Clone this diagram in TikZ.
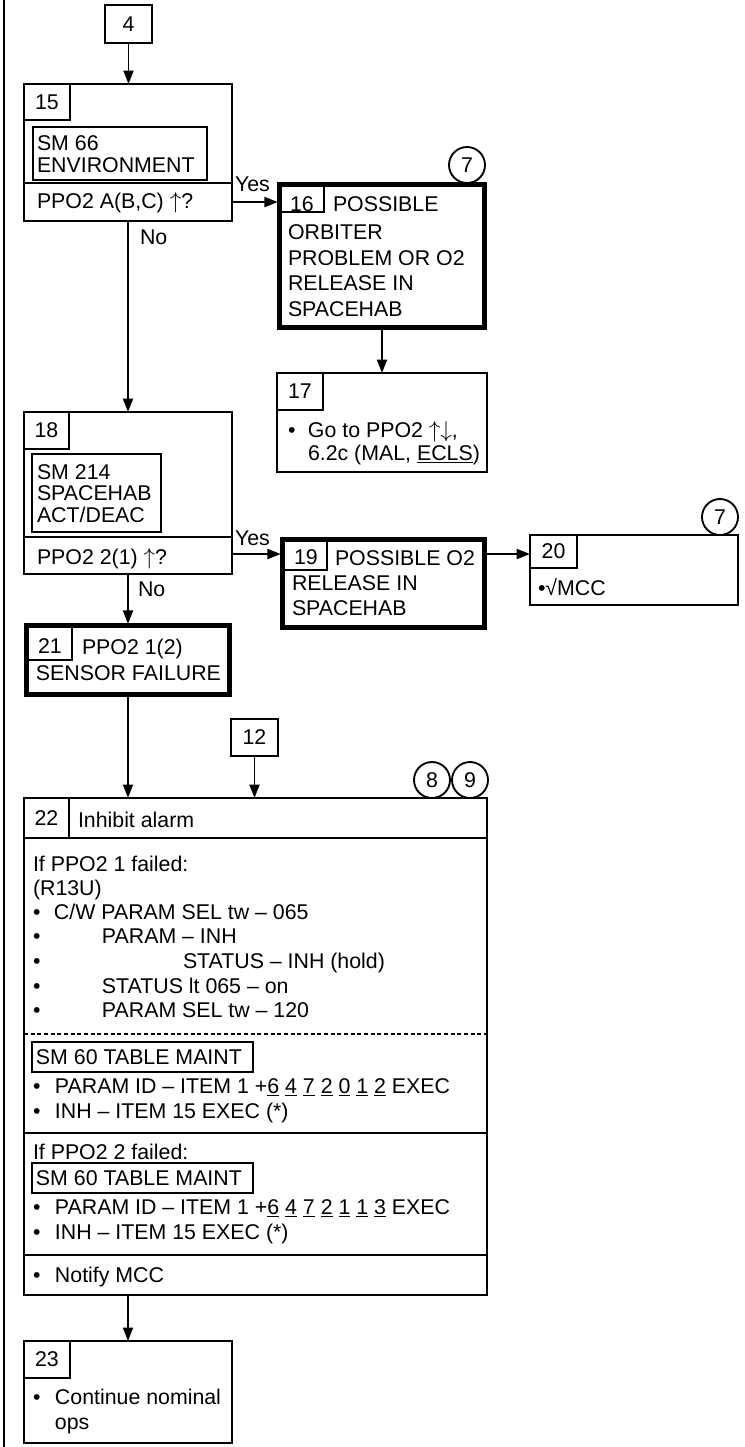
\documentclass[tikz,border=0pt]{standalone}
\usepackage{fontspec}
\setmainfont{Liberation Sans}
\usetikzlibrary{arrows.meta,fit}
\newcommand\myfs{\fontsize{16}{19}\selectfont}
\newcommand\bt[2]{\makebox[#1][l]{•}#2}
\newcommand\up{$\uparrow$}
\newcommand\dn{$\downarrow$}
\begin{document}
\begin{tikzpicture}[x=0.75pt,y=-0.75pt,
  bx/.style={draw,line width=1.4pt,inner sep=0pt,outer sep=0pt},
  thk/.style={draw,line width=3.6pt,inner sep=0pt,outer sep=0pt},
  tx/.style={anchor=base west,inner sep=0pt,outer sep=0pt,font=\myfs},
  lbl/.style={inner sep=0pt,outer sep=0pt,font=\myfs},
  arr/.style={line width=1.4pt,-{Triangle[length=10pt,width=7.5pt]}},
  crc/.style={circle,draw,line width=1.4pt,minimum size=27pt,inner sep=0pt,font=\myfs},
  rule/.style={line width=1.4pt},
  dsh/.style={line width=1.3pt,dash pattern=on 3pt off 2pt}]
\useasboundingbox (0,0) rectangle (744,1447);
\draw[line width=1.8pt] (4,0) -- (4,1447);

% ---- box 4
\node[bx,fit={(105,5)(152,43)}] (b4) {};
\node[lbl] (b4t) at (b4.center) {4};

% ---- box 15
\node[bx,fit={(24,84)(232,221)}] (b15) {};
\node[bx,fit={(24,84)(70,120)}] (n15) {};
\node[lbl] (n15t) at (n15.center) {15};
\node[bx,fit={(33,127)(207,180)}] (s15) {};
\coordinate (d15) at (0,183);
\draw[rule] (b15.west |- d15) -- (b15.east |- d15);
\node[tx] (t15a) at (37,150.6) {SM 66};
\node[tx] (t15b) at (37,172.6) {ENVIRONMENT};
\node[tx] (t15c) at (37,208.6) {PPO2 A(B,C) \up?};

% ---- box 16
\node[thk,fit={(279.5,184.5)(484.5,327.5)}] (b16) {};
\node[bx,fit={(279.5,184.5)(324,212)}] (n16) {};
\node[lbl] (n16t) at (302,204) {16};
\node[tx] (t16a) at (333,211.6) {POSSIBLE};
\node[tx] (t16b) at (288,239.6) {ORBITER};
\node[tx] (t16c) at (288,265.6) {PROBLEM OR O2};
\node[tx] (t16d) at (288,290.6) {RELEASE IN};
\node[tx] (t16e) at (288,316.6) {SPACEHAB};
\node[crc] (c7a) at (467,165) {7};

% ---- box 17
\node[bx,fit={(277,373)(487,472)}] (b17) {};
\node[bx,fit={(277,373)(323,410)}] (n17) {};
\node[lbl] (n17t) at (n17.center) {17};
\node[tx] (t17a) at (288,437.6) {\bt{15pt}{Go to PPO2 \up\dn,}};
\node[tx] (t17b) at (308,460.6) {6.2c (MAL, \underline{ECLS})};

% ---- box 18
\node[bx,fit={(24,412)(232,574)}] (b18) {};
\node[bx,fit={(24,412)(69,449)}] (n18) {};
\node[lbl] (n18t) at (n18.center) {18};
\node[bx,fit={(32,454)(161,532)}] (s18) {};
\node[tx] (t18a) at (37,479.6) {SM 214};
\node[tx] (t18b) at (37,500.6) {SPACEHAB};
\node[tx] (t18c) at (37,522.6) {ACT/DEAC};
\coordinate (d18) at (0,537);
\draw[rule] (b18.west |- d18) -- (b18.east |- d18);
\node[tx] (t18d) at (37,564.6) {PPO2 2(1) \up?};

% ---- box 19
\node[thk,fit={(282.5,539.5)(484.5,627.5)}] (b19) {};
\node[bx,fit={(282.5,539.5)(327,570)}] (n19) {};
\node[lbl] (n19t) at (306,557) {19};
\node[tx] (t19a) at (335,565.6) {POSSIBLE O2};
\node[tx] (t19b) at (292,590.6) {RELEASE IN};
\node[tx] (t19c) at (292,615.6) {SPACEHAB};

% ---- box 20
\node[bx,fit={(530,535)(738,605)}] (b20) {};
\node[bx,fit={(530,535)(577,568)}] (n20) {};
\node[lbl] (n20t) at (n20.center) {20};
\node[tx] (t20a) at (538,595.6) {•√MCC};
\node[crc] (c7b) at (720,517) {7};

% ---- box 21
\node[thk,fit={(26.5,625.5)(229.5,694.5)}] (b21) {};
\node[bx,fit={(26.5,625.5)(72,660)}] (n21) {};
\node[lbl] (n21t) at (50,646) {21};
\node[tx] (t21a) at (82,654.6) {PPO2 1(2)};
\node[tx] (t21b) at (36,680.6) {SENSOR FAILURE};

% ---- box 12 and circles
\node[bx,fit={(231,719)(278,756)}] (b12) {};
\node[lbl] (b12t) at (b12.center) {12};
\node[crc] (c8) at (432,780) {8};
\node[crc] (c9) at (470,780) {9};

% ---- box 22
\node[bx,fit={(24,798)(487,1295)}] (b22) {};
\node[bx,fit={(24,798)(69,838)}] (n22) {};
\node[lbl] (n22t) at (n22.center) {22};
\node[tx] (t22h) at (78,827.6) {Inhibit alarm};
\coordinate (d22a) at (0,838);
\draw[rule] (b22.west |- d22a) -- (b22.east |- d22a);
\node[tx] (t22a) at (33,871.6) {If PPO2 1 failed:};
\node[tx] (t22b) at (33,895.6) {(R13U)};
\node[tx] (t22c) at (33,919.6) {\bt{15.75pt}{C/W PARAM SEL tw – 065}};
\node[tx] (t22d) at (33,943.6) {\bt{51.75pt}{PARAM – INH}};
\node[tx] (t22e) at (33,968.6) {\bt{112.5pt}{STATUS – INH (hold)}};
\node[tx] (t22f) at (33,993.6) {\bt{51.75pt}{STATUS lt 065 – on}};
\node[tx] (t22g) at (33,1017.6) {\bt{51.75pt}{PARAM SEL tw – 120}};
\coordinate (d22b) at (0,1034);
\draw[dsh] (b22.west |- d22b) -- (b22.east |- d22b);
\node[bx,fit={(32,1042)(253,1072)}] (s22a) {};
\node[tx] (t22i) at (36,1064.6) {SM 60 TABLE MAINT};
\node[tx] (t22j) at (33,1093.6) {\bt{16.5pt}{PARAM ID – ITEM 1 +\underline{6} \underline{4} \underline{7} \underline{2} \underline{0} \underline{1} \underline{2} EXEC}};
\node[tx] (t22k) at (33,1118.6) {\bt{16.5pt}{INH – ITEM 15 EXEC (*)}};
\coordinate (d22c) at (0,1133);
\draw[rule] (b22.west |- d22c) -- (b22.east |- d22c);
\node[tx] (t22l) at (33,1159.6) {If PPO2 2 failed:};
\node[bx,fit={(32,1163)(253,1193)}] (s22b) {};
\node[tx] (t22m) at (36,1185.6) {SM 60 TABLE MAINT};
\node[tx] (t22n) at (33,1214.6) {\bt{16.5pt}{PARAM ID – ITEM 1 +\underline{6} \underline{4} \underline{7} \underline{2} \underline{1} \underline{1} \underline{3} EXEC}};
\node[tx] (t22o) at (33,1239.6) {\bt{16.5pt}{INH – ITEM 15 EXEC (*)}};
\coordinate (d22d) at (0,1255);
\draw[rule] (b22.west |- d22d) -- (b22.east |- d22d);
\node[tx] (t22p) at (33,1282.6) {\bt{16.5pt}{Notify MCC}};

% ---- box 23
\node[bx,fit={(24,1341)(232,1443)}] (b23) {};
\node[bx,fit={(24,1341)(70,1378)}] (n23) {};
\node[lbl] (n23t) at (n23.center) {23};
\node[tx] (t23a) at (33,1404.6) {\bt{16.5pt}{Continue nominal}};
\node[tx] (t23b) at (55,1429.6) {ops};

% ---- labels
\node[tx] (y1) at (235,191.6) {Yes};
\node[tx] (no1) at (140,244.6) {No};
\node[tx] (y2) at (235,545.6) {Yes};
\node[tx] (no2) at (138,596.6) {No};

% ---- connectors
\coordinate (r15) at (0,202);
\coordinate (r18) at (0,554);
\draw[arr] (b4.south) -- (b4.south |- b15.north);
\draw[arr,shorten >=1.3pt] (b15.east |- r15) -- (b16.west |- r15);
\draw[arr] (b15.south) -- (b15.south |- b18.north);
\draw[arr] (b16.south) -- (b16.south |- b17.north);
\draw[arr,shorten >=1.3pt] (b18.east |- r18) -- (b19.west |- r18);
\draw[arr] (b19.east |- r18) -- (b20.west |- r18);
\draw[arr,shorten >=1.3pt] (b18.south) -- (b18.south |- b21.north);
\draw[arr] (b21.south) -- (b21.south |- b22.north);
\draw[arr] (b12.south) -- (b12.south |- b22.north);
\draw[arr] (b23.north |- b22.south) -- (b23.north);
\end{tikzpicture}
\end{document}
